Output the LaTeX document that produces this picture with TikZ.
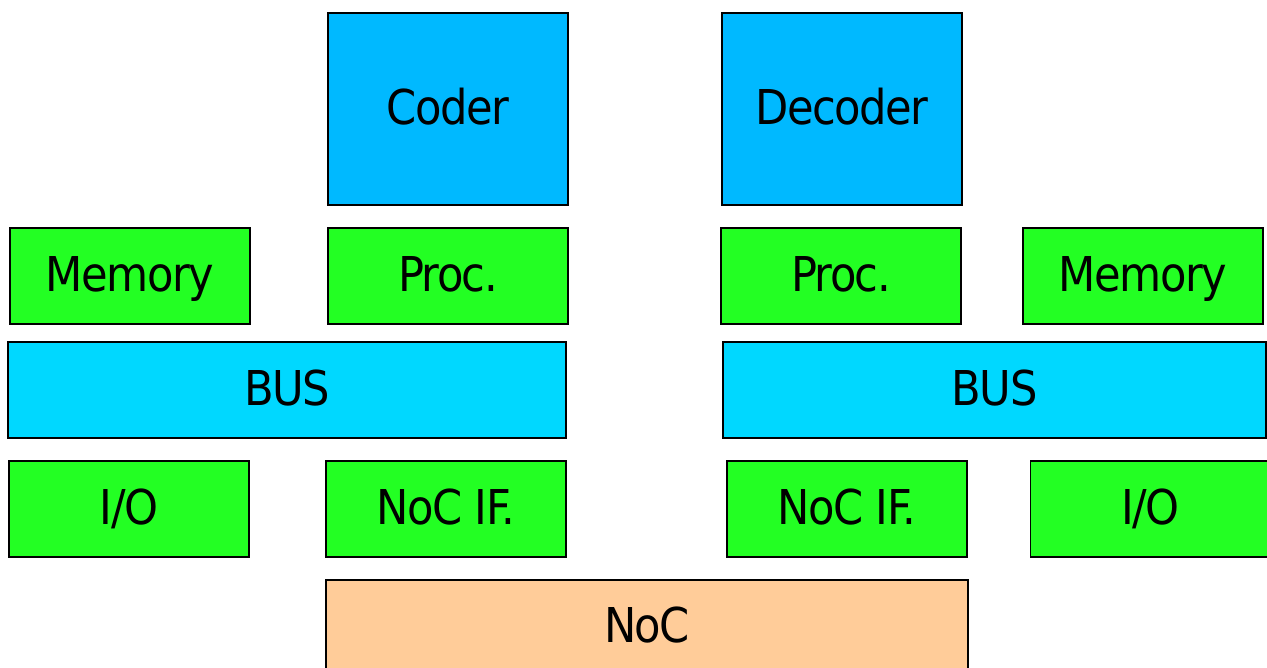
\documentclass[tikz,border=0pt]{standalone}
\usepackage{fontspec}
\newfontfamily\boxfont{DejaVu Sans Condensed}[LetterSpace=-3]
\usepackage{tikz}

\definecolor{coderblue}{HTML}{00B9FF}
\definecolor{buscyan}{HTML}{00D8FF}
\definecolor{unitgreen}{HTML}{23FF23}
\definecolor{nocorange}{HTML}{FFCC99}

\tikzset{
    unit/.style={draw=black, line width=1.5pt, inner sep=0pt, outer sep=0pt,
        text height=35pt, text depth=4pt,
        font=\boxfont\fontsize{48}{58}\selectfont},
    codec/.style={unit, fill=coderblue, minimum width=240pt, minimum height=192pt},
    block/.style={unit, fill=unitgreen, minimum width=240pt, minimum height=96pt},
    bus/.style={unit, fill=buscyan, minimum height=96pt},
}

\begin{document}
\begin{tikzpicture}[x=1pt, y=-1pt]
    \useasboundingbox (0, 0) rectangle (1267, 668);

    \node[codec] (coder) at (448, 109) {Coder};
    \node[codec] (decoder) at (842, 109) {Decoder};

    \node[block] (memL) at (130, 276) {Memory};
    \node[block] (procL) at (448, 276) {Proc.};
    \node[block] (procR) at (841, 276) {Proc.};
    \node[block] (memR) at (1143, 276) {Memory};

    \node[bus, minimum width=558pt] (busL) at (287, 390) {BUS};
    \node[bus, minimum width=543pt] (busR) at (994.5, 390) {BUS};

    \node[block] (ioL) at (129, 509) {I/O};
    \node[block] (nifL) at (446, 509) {NoC IF.};
    \node[block] (nifR) at (847, 509) {NoC IF.};
    \node[block] (ioR) at (1150.5, 509) {I/O};

    \node[unit, fill=nocorange, minimum width=642pt, minimum height=94pt] (noc) at (647, 627) {NoC};
\end{tikzpicture}
\end{document}
